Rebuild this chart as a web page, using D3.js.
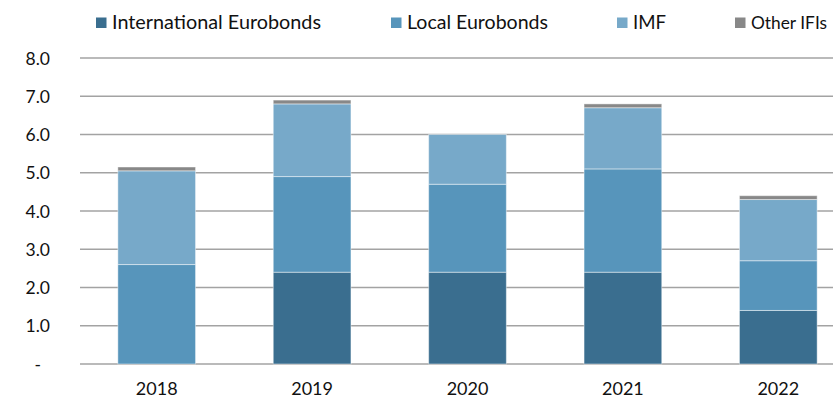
<!DOCTYPE html>
<html>
<head>
<meta charset="utf-8">
<script src="https://cdn.jsdelivr.net/npm/d3@7"></script>
<style>
  body { margin: 0; background: #fff; }
  svg text { font-family: Lato, "Open Sans", sans-serif; fill: #111; }
</style>
</head>
<body>
<svg id="chart" width="833" height="400"></svg>
<script>
// data (USD bn)
const years = ["2018", "2019", "2020", "2021", "2022"]
const seriesNames = ["International Eurobonds", "Local Eurobonds", "IMF", "Other IFIs"]
const intlEurobonds = [0, 2.4, 2.4, 2.4, 1.4]
const localEurobonds = [2.6, 2.5, 2.3, 2.7, 1.3]
const imf = [2.45, 1.9, 1.3, 1.6, 1.6]
const otherIFIs = [0.1, 0.1, 0, 0.1, 0.1]
const yTicks = [0, 1, 2, 3, 4, 5, 6, 7, 8]

const colors = ["#3a6e8f", "#5795bb", "#77a9c9", "#888888"]

const rows = years.map((y, i) => ({
  year: y,
  "International Eurobonds": intlEurobonds[i],
  "Local Eurobonds": localEurobonds[i],
  "IMF": imf[i],
  "Other IFIs": otherIFIs[i]
}))

const svg = d3.select('#chart')

const x = d3.scaleBand()
  .domain(years)
  .range([79, 856])
  .paddingInner(0.5)
  .paddingOuter(0.25)

const y = d3.scaleLinear()
  .domain([0, 8])
  .range([364, 58])

const color = d3.scaleOrdinal().domain(seriesNames).range(colors)

// gridlines
svg.append("g")
  .selectAll("line")
  .data(yTicks)
  .join("line")
  .attr("x1", 80)
  .attr("x2", 833)
  .attr("y1", d => y(d))
  .attr("y2", d => y(d))
  .attr("stroke", "#a3a3a3")
  .attr("stroke-width", 1.6)

// y labels
const yAxis = d3.axisLeft(y)
  .tickValues(yTicks)
  .tickSize(0)
  .tickPadding(0)
  .tickFormat(d => d === 0 ? "-" : d3.format(".1f")(d))

svg.append("g")
  .attr("transform", "translate(50,0)")
  .call(yAxis)
  .call(g => g.select(".domain").remove())
  .selectAll("text")
  .attr("font-size", 17.5)
  .attr("dy", "0.35em")
  .attr("dx", d => d === 0 ? -9 : 0)

// stacked bars
const stack = d3.stack().keys(seriesNames)(rows)

svg.append("g")
  .selectAll("g")
  .data(stack)
  .join("g")
  .attr("fill", d => color(d.key))
  .selectAll("rect")
  .data(d => d.filter(s => s[1] - s[0] > 0))
  .join("rect")
  .attr("x", d => x(d.data.year))
  .attr("width", x.bandwidth())
  .attr("y", d => y(d[1]))
  .attr("height", d => y(d[0]) - y(d[1]))
  .attr("stroke", "#fff")
  .attr("stroke-opacity", 0.45)
  .attr("stroke-width", 1)

// x labels
const xAxis = d3.axisBottom(x).tickSize(0).tickPadding(0)
svg.append("g")
  .attr("transform", "translate(0,389)")
  .call(xAxis)
  .call(g => g.select(".domain").remove())
  .selectAll("text")
  .attr("font-size", 18)
  .attr("dy", "0.35em")

// legend (text widths squeezed a bit, the original font is narrower)
const legendX = [96, 391, 617, 735]
const legendW = [209, 141, 33, 76]
const legendSize = [19.5, 19.5, 19.5, 17.5] // last one sits on the edge
const legend = svg.append("g")
  .selectAll("g")
  .data(seriesNames)
  .join("g")
  .attr("transform", (d, i) => `translate(${legendX[i]},0)`)

legend.append("rect")
  .attr("y", 17.5)
  .attr("width", 10.5)
  .attr("height", 10.5)
  .attr("fill", d => color(d))

legend.append("text")
  .attr("x", 16)
  .attr("y", 22.5)
  .attr("dy", "0.35em")
  .attr("font-size", (d, i) => legendSize[i])
  .attr("textLength", (d, i) => legendW[i])
  .attr("lengthAdjust", "spacingAndGlyphs")
  .text(d => d)
</script>
</body>
</html>
